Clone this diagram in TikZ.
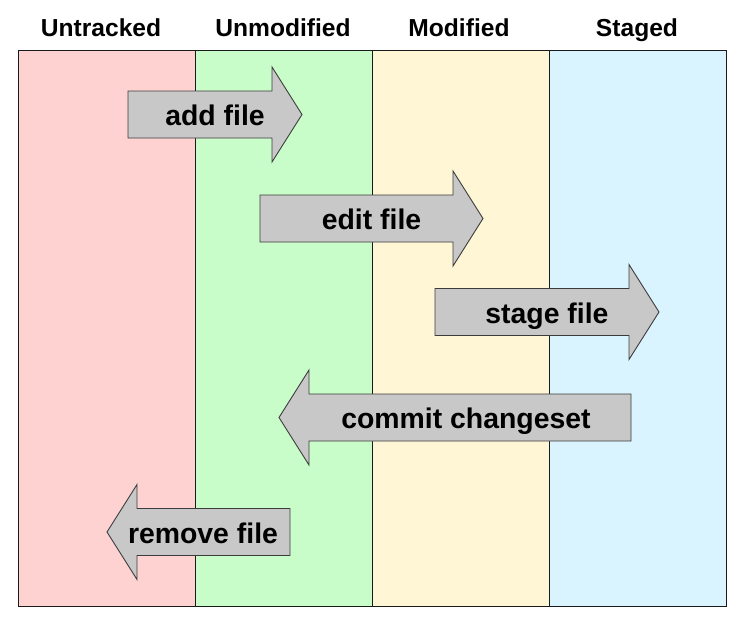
\documentclass[tikz,border=0pt]{standalone}
\usepackage{fontspec}
\setmainfont{Liberation Sans}
\usetikzlibrary{calc}
\definecolor{ink}{HTML}{1A1A1A}
\definecolor{untracked}{HTML}{FFD2D2}
\definecolor{unmodified}{HTML}{C8FCC8}
\definecolor{modified}{HTML}{FFF6D6}
\definecolor{staged}{HTML}{DAF4FF}
\definecolor{arrowgray}{HTML}{C8C8C8}

\tikzset{
  lane/.style={draw=ink,line width=.9pt},
  heading/.style={font=\fontsize{24.6}{27}\selectfont\bfseries,anchor=base,inner sep=0pt},
  bigarrow/.style={draw=ink!85,fill=arrowgray,line width=.9pt,line join=miter},
  arrowtext/.style={font=\fontsize{28.4}{31}\selectfont\bfseries,anchor=base,inner sep=0pt}
}

\begin{document}
\begin{tikzpicture}[x=1pt,y=-1pt,text=black]
  \useasboundingbox (0,0) rectangle (742,622);

  % lanes
  \foreach \x/\c/\lab/\tx in {18/untracked/Untracked/101,
                            195/unmodified/Unmodified/283,
                            372/modified/Modified/459,
                            549/staged/Staged/637}{
    \draw[lane,fill=\c] (\x,50) rectangle ++(177,556);
    \node[heading] (\c) at (\tx,36.7) {\lab};
  }

  % arrows to the right: tail, head base, centre, label
  \foreach \l/\b/\y/\lab/\nm in {128/272/114.5/add file/add,
                               260/453/218.5/edit file/edit,
                               435/629/312/stage file/stage}{
    \draw[bigarrow] (\l,\y-23.5) -- (\b,\y-23.5) -- (\b,\y-47.5)
      -- (\b+30,\y) -- (\b,\y+47.5) -- (\b,\y+23.5) -- (\l,\y+23.5) -- cycle;
    \node[arrowtext] (\nm) at ({(\l+\b+30)/2},\y+11) {\lab};
  }
  % arrows to the left: tail, head base, centre, text x, label
  \foreach \r/\b/\y/\tx/\lab/\nm in {631/309/417.5/466/commit changeset/commit,
                                   290/137/532/203/remove file/remove}{
    \draw[bigarrow] (\r,\y-23.5) -- (\b,\y-23.5) -- (\b,\y-47.5)
      -- (\b-30,\y) -- (\b,\y+47.5) -- (\b,\y+23.5) -- (\r,\y+23.5) -- cycle;
    \node[arrowtext] (\nm) at (\tx,\y+11) {\lab};
  }
\end{tikzpicture}
\end{document}
